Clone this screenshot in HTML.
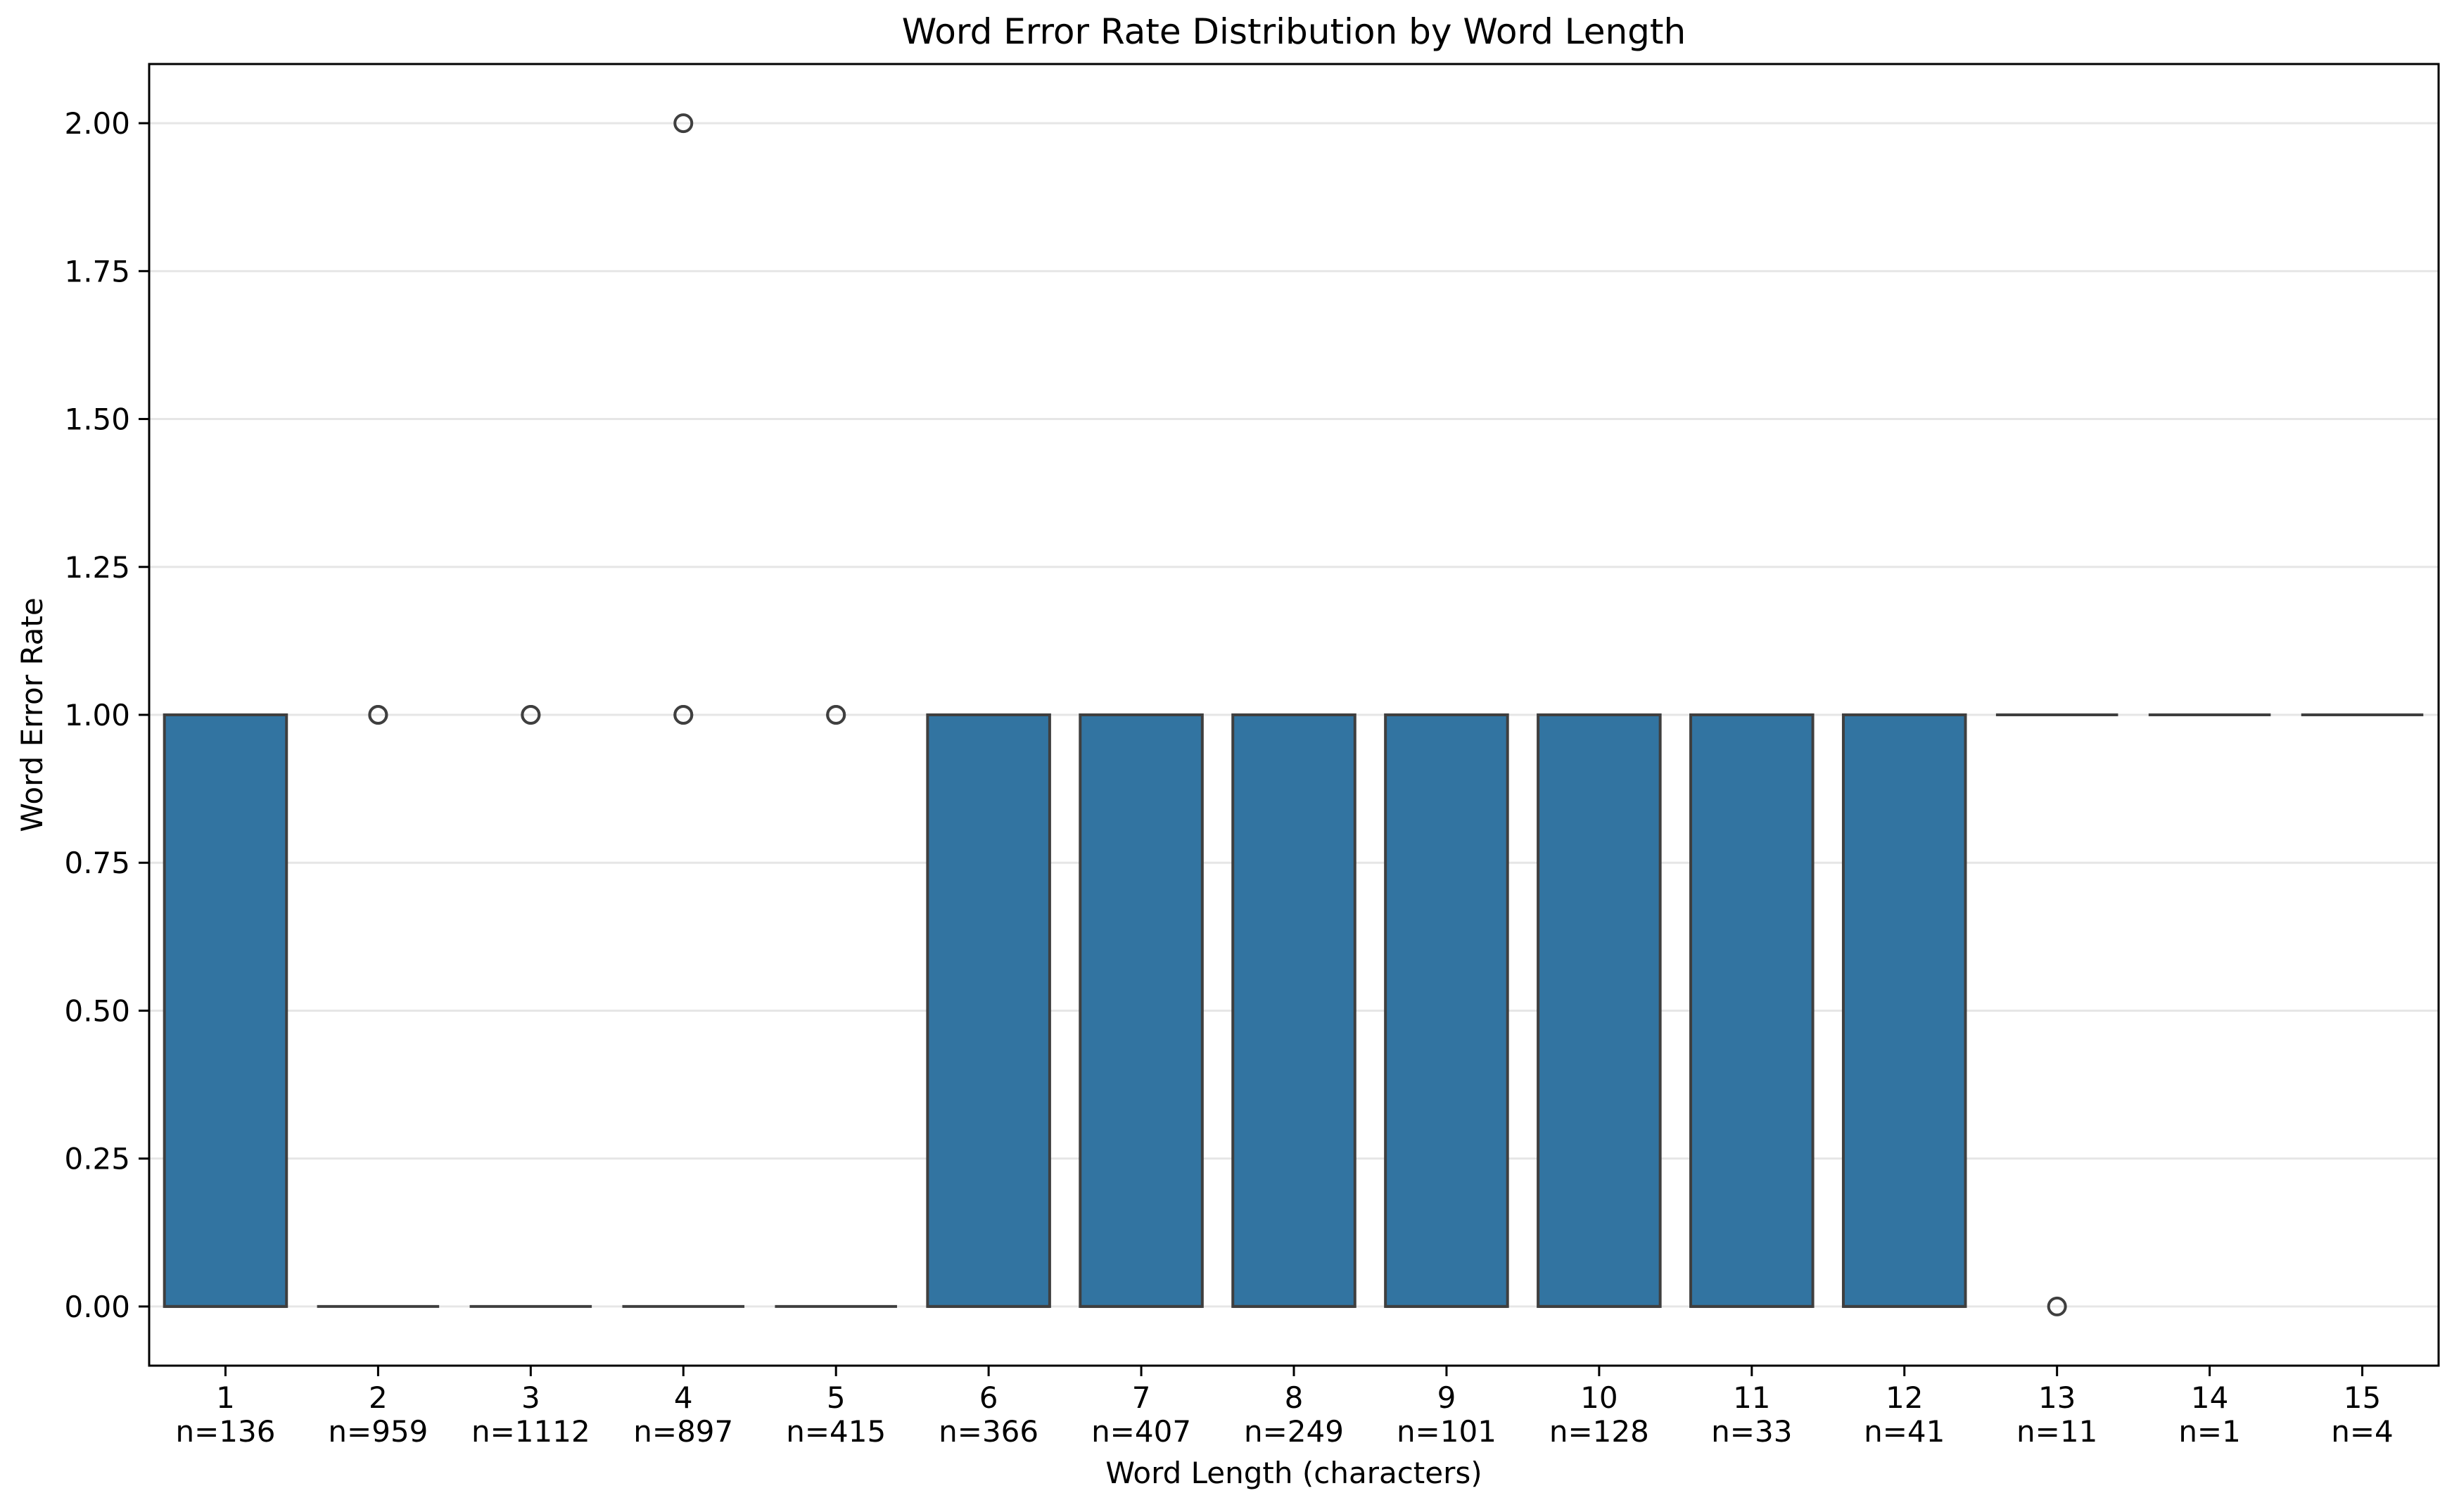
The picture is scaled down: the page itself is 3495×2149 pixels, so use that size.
<!DOCTYPE html>
<html><head><meta charset="utf-8"><style>
html,body{margin:0;padding:0;background:#fff}
svg{display:block;font-family:"DejaVu Sans","Liberation Sans",sans-serif}
</style></head><body>
<svg id="chart" width="3495" height="2149" viewBox="0 0 3495 2149" xmlns="http://www.w3.org/2000/svg">
<rect x="0" y="0" width="3495" height="2149" fill="#fff"/>
<text x="1839" y="62" text-anchor="middle" font-size="50">Word Error Rate Distribution by Word Length</text>
<g id="grid"></g>
<g id="boxes"></g>
<g id="ticks"></g>
<rect x="212" y="91" width="3254" height="1850" fill="none" stroke="#000" stroke-width="3"/>
<text x="1839" y="2108" text-anchor="middle" font-size="42">Word Length (characters)</text>
<text transform="translate(60,1016) rotate(-90)" text-anchor="middle" font-size="42">Word Error Rate</text>
</svg>
<script>
const categories = ["1","2","3","4","5","6","7","8","9","10","11","12","13","14","15"];
const counts = [136,959,1112,897,415,366,407,249,101,128,33,41,11,1,4];
const q1 = [0,0,0,0,0,0,0,0,0,0,0,0,1,1,1];
const q3 = [1,0,0,0,0,1,1,1,1,1,1,1,1,1,1];
const medians = [0,0,0,0,0,0,0,0,0,0,0,0,1,1,1];
const outliers = [[],[1,1],[1,1],[1,1,2],[1,1],[],[],[],[],[],[],[],[0],[],[]];
const yTicks = [0,0.25,0.5,0.75,1,1.25,1.5,1.75,2];

const L=212,R=3466,T=91,B=1941,yMin=-0.1,yMax=2.1,xMin=-0.5,xMax=14.5;
const NS="http://www.w3.org/2000/svg";
const xs=i=>L+(i-xMin)/(xMax-xMin)*(R-L);
const ys=v=>B-(v-yMin)/(yMax-yMin)*(B-T);
const bw=0.8*(R-L)/(xMax-xMin);
function mk(tag,attrs,parent){const e=document.createElementNS(NS,tag);for(const k in attrs)e.setAttribute(k,attrs[k]);parent.appendChild(e);return e;}
const grid=document.getElementById('grid'),boxes=document.getElementById('boxes'),ticks=document.getElementById('ticks');
yTicks.forEach(v=>{
  const g=mk('line',{x1:L,x2:R,y1:ys(v),y2:ys(v),stroke:'#e6e6e6','stroke-width':3},grid);
  
  
  const t=mk('line',{x1:L-15,x2:L,y1:ys(v),y2:ys(v),stroke:'#000','stroke-width':3},ticks);
  
  
  const l=mk('text',{x:L-27,y:ys(v)+15,'text-anchor':'end','font-size':42},ticks);
  l.textContent=v.toFixed(2);
  
  
});
categories.forEach((c,i)=>{
  const cx=xs(i),x0=cx-bw/2;
  const y1=ys(q3[i]),y0=ys(q1[i]);
  if(q3[i]>q1[i]){
    const r=mk('rect',{x:x0,y:y1,width:bw,height:y0-y1,fill:'#3274a1',stroke:'#3f3f3f','stroke-width':4},boxes);
    
    
  }
  const m=mk('line',{x1:x0,x2:x0+bw,y1:ys(medians[i]),y2:ys(medians[i]),stroke:'#3f3f3f','stroke-width':4},boxes);
  
  
  outliers[i].forEach(v=>{
    const o=mk('circle',{cx:cx,cy:ys(v),r:12,fill:'none',stroke:'#3f3f3f','stroke-width':4},boxes);
    
    
  });
  const t=mk('line',{x1:cx,x2:cx,y1:B,y2:B+15,stroke:'#000','stroke-width':3},ticks);
  
  
  const l=mk('text',{x:cx,y:B+60,'text-anchor':'middle','font-size':42},ticks);
  l.textContent=c;
  
  
  const n=mk('text',{x:cx,y:B+108,'text-anchor':'middle','font-size':42},ticks);
  n.textContent='n='+counts[i];
  
  
});
</script>
</body></html>
